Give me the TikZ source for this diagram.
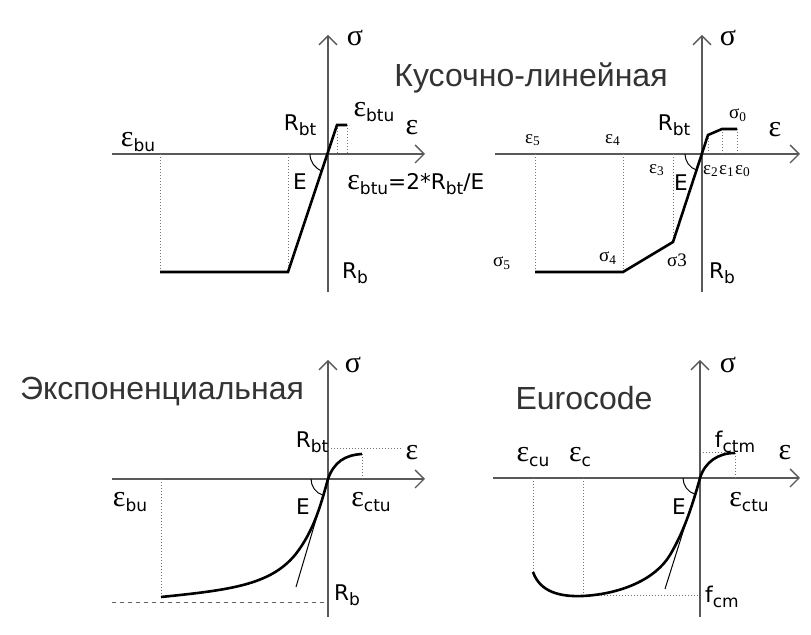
\documentclass[tikz,border=0pt]{standalone}
\usepackage{fontspec}
\setmainfont{DejaVu Sans}
\newfontfamily\titlefont{Liberation Sans}
\newfontfamily\smallfont{Liberation Serif}
\newcommand{\eps}{{\smallfont\fontsize{15}{15}\selectfont ε}}
\newcommand{\sig}{{\smallfont\fontsize{15}{15}\selectfont σ}}
\newcommand{\sub}[1]{\raisebox{-0.4ex}{\fontsize{8.5}{9}\selectfont #1}}
\usetikzlibrary{arrows.meta,calc}

\begin{document}
\begin{tikzpicture}[x=0.5pt, y=0.5pt,
    every node/.style={inner sep=1pt, font=\fontsize{10.8}{12}\selectfont},
    axis/.style={draw=black!65, line width=0.7pt, -{Straight Barb[length=4.5pt, width=9pt]}},
    curve/.style={line width=1.3pt},
    guide/.style={densely dotted, draw=black!55, line width=0.5pt},
    level/.style={dash pattern=on 2pt off 2pt, draw=black!60, line width=0.5pt},
    thin line/.style={line width=0.5pt},
    smalllbl/.style={font=\smallfont\fontsize{9.5}{11}\selectfont},
    title/.style={font=\titlefont\fontsize{16}{19}\selectfont, text=black!80}
]
\useasboundingbox (0,0) rectangle (811,-635);

% top left: bilinear
\coordinate (aO) at (328,-154);
\coordinate (aL) at (112,-154);
\coordinate (aR) at (425,-154);
\coordinate (aB) at (328,-292);
\coordinate (aT) at (328,-35);
\draw[axis] (aL) -- (aR);
\draw[axis] (aB) -- (aT);
\coordinate (a1) at (160,-272);
\coordinate (a2) at (288,-272);
\coordinate (a3) at (337,-125);
\coordinate (a4) at (347,-125);
\draw[guide] (a1) -- (a1 |- aO);
\draw[guide] (a2) -- (a2 |- aO);
\draw[guide] (a3) -- (a3 |- aO);
\draw[guide] (a4) -- (a4 |- aO);
\draw[curve] (a1) -- (a2) -- (a3) -- (a4);
\draw[thin line] (aO) ++(-18,0) arc[start angle=180, end angle=251, radius=18];
\node (aSig) at (355,-38) {\sig};
\node (aEps) at (412,-128) {\eps};
\node (aEbu) at (138,-142) {\eps\sub{bu}};
\node (aRbt) at (300,-125) {R\sub{bt}};
\node (aEbtu) at (374,-112) {\eps\sub{btu}};
\node (aE) at (300,-182) {E};
\node[anchor=west] (aForm) at (345,-184) {\eps\sub{btu}=2*R\sub{bt}/E};
\node (aRb) at (355,-273) {R\sub{b}};

% top right: multilinear
\node[title] (bTitle) at (531,-78) {Кусочно-линейная};
\coordinate (bO) at (702,-154);
\coordinate (bL) at (495,-154);
\coordinate (bR) at (800,-154);
\coordinate (bB) at (702,-292);
\coordinate (bT) at (702,-35);
\draw[axis] (bL) -- (bR);
\draw[axis] (bB) -- (bT);
\coordinate (b1) at (535,-272);
\coordinate (b2) at (623,-272);
\coordinate (b3) at (673,-242);
\coordinate (b4) at (708,-135);
\coordinate (b5) at (722,-129);
\coordinate (b6) at (737,-129);
\draw[guide] (b1) -- (b1 |- bO);
\draw[guide] (b2) -- (b2 |- bO);
\draw[guide] (b3) -- (b3 |- bO);
\draw[guide] (b4) -- (b4 |- bO);
\draw[guide] (b5) -- (b5 |- bO);
\draw[guide] (b6) -- (b6 |- bO);
\draw[curve] (b1) -- (b2) -- (b3) -- (b4) -- (b5) -- (b6);
\draw[thin line] (bO) ++(-17,0) arc[start angle=180, end angle=252, radius=17];
\node (bSig) at (728,-38) {\sig};
\node (bEps) at (775,-130) {\eps};
\node (bRbt) at (674,-125) {R\sub{bt}};
\node (bE) at (681,-183) {E};
\node (bRb) at (722,-273) {R\sub{b}};
\node[smalllbl] (be5) at (533,-140) {ε\textsubscript{5}};
\node[smalllbl] (be4) at (613,-140) {ε\textsubscript{4}};
\node[smalllbl] (be3) at (657,-170) {ε\textsubscript{3}};
\node[smalllbl] (be2) at (711,-171) {ε\textsubscript{2}};
\node[smalllbl] (be1) at (727,-171) {ε\textsubscript{1}};
\node[smalllbl] (be0) at (743,-171) {ε\textsubscript{0}};
\node[smalllbl] (bs0) at (738,-115) {σ\textsubscript{0}};
\node[smalllbl] (bs5) at (502,-263) {σ\textsubscript{5}};
\node[smalllbl] (bs4) at (608,-258) {σ\textsubscript{4}};
\node[smalllbl] (bs3) at (677,-260) {σ3};

% bottom left: exponential
\node[title] (cTitle) at (162,-392) {Экспоненциальная};
\coordinate (cO) at (328,-479);
\coordinate (cL) at (112,-479);
\coordinate (cR) at (425,-479);
\coordinate (cB) at (328,-617);
\coordinate (cT) at (328,-360);
\draw[axis] (cL) -- (cR);
\draw[axis] (cB) -- (cT);
\coordinate (c1) at (161,-597);
\coordinate (c2) at (295,-555);
\coordinate (c4) at (362,-454);
\coordinate (cTg) at (296,-587);
\coordinate (cLow) at (112,-603);
\coordinate (cTop) at (403,-449);
\draw[guide] (c1) -- (c1 |- cO);
\draw[level] (cLow) -- (cO |- cLow);
\draw[guide] (cO |- cTop) -- (cTop);
\draw[guide] (c4) -- (c4 |- cO);
\draw[thin line] (cTg) -- (cO);
\draw[curve] (c1) .. controls (230,-590) and (270,-585) .. (c2)
    .. controls (315,-530) and (322,-500) .. (cO)
    .. controls (334,-462) and (345,-455) .. (c4);
\draw[thin line] (cO) ++(-17,0) arc[start angle=180, end angle=253, radius=17];
\node (cSig) at (353,-365) {\sig};
\node (cEps) at (412,-453) {\eps};
\node (cRbt) at (312,-442) {R\sub{bt}};
\node (cEctu) at (371,-502) {\eps\sub{ctu}};
\node (cE) at (303,-507) {E};
\node (cEbu) at (130,-502) {\eps\sub{bu}};
\node (cRb) at (347,-595) {R\sub{b}};

% bottom right: Eurocode
\node[title] (dTitle) at (584,-398) {Eurocode};
\coordinate (dO) at (700,-478);
\coordinate (dL) at (493,-478);
\coordinate (dR) at (800,-478);
\coordinate (dB) at (700,-617);
\coordinate (dT) at (700,-360);
\draw[axis] (dL) -- (dR);
\draw[axis] (dB) -- (dT);
\coordinate (d1) at (533,-572);
\coordinate (d2) at (583,-596);
\coordinate (d3) at (670,-555);
\coordinate (d4) at (735,-453);
\coordinate (dTg) at (665,-589);
\draw[guide] (d1) -- (d1 |- dO);
\draw[guide] (d2) -- (d2 |- dO);
\draw[guide] (d2) -- (dO |- d2);
\draw[guide] (dO |- d4) -- (d4);
\draw[guide] (d4) -- (d4 |- dO);
\draw[thin line] (dTg) -- (dO);
\draw[curve] (d1) .. controls (540,-592) and (560,-597) .. (d2)
    .. controls (620,-594) and (655,-580) .. (d3)
    .. controls (685,-530) and (694,-500) .. (dO)
    .. controls (705,-462) and (718,-453) .. (d4);
\draw[thin line] (dO) ++(-17,0) arc[start angle=180, end angle=252, radius=17];
\node (dSig) at (728,-365) {\sig};
\node (dEps) at (785,-453) {\eps};
\node (dEcu) at (533,-457) {\eps\sub{cu}};
\node (dEc) at (580,-457) {\eps\sub{c}};
\node (dFctm) at (735,-442) {f\sub{ctm}};
\node (dEctu) at (749,-502) {\eps\sub{ctu}};
\node (dE) at (679,-507) {E};
\node (dFcm) at (722,-597) {f\sub{cm}};
\end{tikzpicture}
\end{document}
